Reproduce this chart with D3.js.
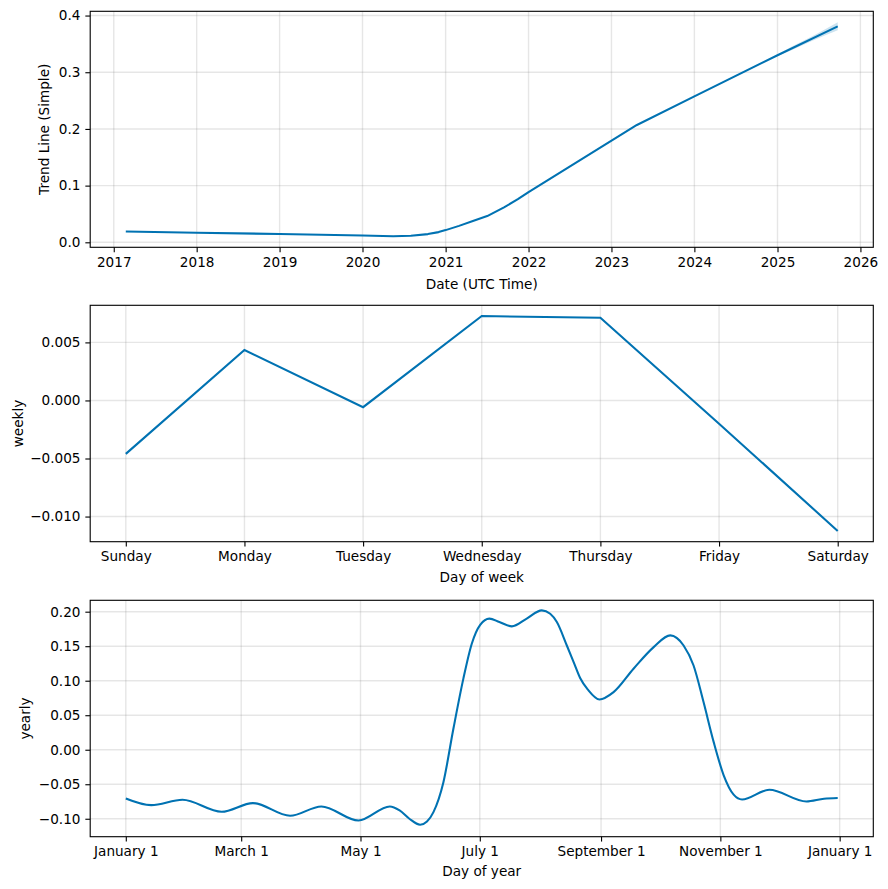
<!DOCTYPE html>
<html>
<head>
<meta charset="utf-8">
<script src="https://cdn.jsdelivr.net/npm/d3@7"></script>
<style>
  html, body { margin: 0; padding: 0; background: #fff; }
  svg { display: block; }
  text { font-family: "DejaVu Sans", sans-serif; fill: #000; }
</style>
</head>
<body>
<svg id="chart" width="888" height="889"></svg>
<script>
// ---------- DATA ----------
// Trend (Prophet component, piecewise linear)
const trendDates = ["2017-02-23","2018-01-01","2019-01-01","2020-01-01","2020-05-15","2020-08-01",
  "2020-10-15","2020-12-01","2021-01-01","2021-03-01","2021-05-01","2021-07-03","2021-09-15",
  "2021-11-15","2022-01-01","2023-04-23","2024-01-01","2025-01-01","2025-09-23"];
const trendValues = [0.0192,0.0169,0.0146,0.0121,0.0106,0.0115,
  0.0145,0.0180,0.0215,0.0290,0.0375,0.0463,0.0617,
  0.0760,0.0886,0.2070,0.2575,0.3300,0.3810];
// Trend uncertainty band (forecast part)
const bandDates = ["2024-12-01","2025-03-01","2025-06-01","2025-09-23"];
const bandUpper = [0.3240,0.3445,0.3630,0.3880];
const bandLower = [0.3240,0.3385,0.3550,0.3740];

// Weekly seasonality
const weekDays = ["Sunday","Monday","Tuesday","Wednesday","Thursday","Friday","Saturday"];
const weeklyValues = [-0.0046,0.00434,-0.00058,0.00727,0.00712,-0.0020,-0.01124];

// Yearly seasonality (day of year from Jan 1, 2017)
const yearDays = [0,13,29,49,65,84,100,119,135,140,145,150.5,154,157.3,162.4,167.5,172.6,176.9,181.2,185.9,
  191,197.4,205,212.7,217,220.4,225.5,229.4,232.3,236.3,242.2,249.4,259.6,269.9,278.4,285.2,290.3,295.4,
  300.6,305.7,310.8,315.1,329,348,357,364];
const yearlyValues = [-0.0706,-0.0803,-0.0725,-0.0899,-0.0773,-0.0957,-0.0822,-0.1025,-0.0822,-0.0880,-0.1000,-0.1087,-0.1040,-0.0904,-0.0470,
  0.0304,0.1030,0.1536,0.1810,0.1900,
  0.1850,0.1787,0.1900,0.2019,0.1970,0.1850,0.1510,0.1240,0.1040,0.0870,0.0729,0.0835,0.1174,0.1487,0.1657,0.1510,0.1220,0.0690,
  0.0110,-0.0370,-0.0650,-0.0720,-0.0580,-0.0750,-0.0710,-0.0700];
const yearTickDates = ["2017-01-01","2017-03-01","2017-05-01","2017-07-01","2017-09-01","2017-11-01","2018-01-01"];

const trendTicks = [0.0,0.1,0.2,0.3,0.4];
const weeklyTicks = [-0.010,-0.005,0.000,0.005];
const yearlyTicks = [-0.10,-0.05,0.00,0.05,0.10,0.15,0.20];

// ---------- LAYOUT ----------
const svg = d3.select("#chart");
const LEFT = 90.2, RIGHT = 873.3;
const FONT = 13.6;
const LINE = "#0072B2";
const TICK = 4.86, PAD = 4.86;
const parse = d3.utcParse("%Y-%m-%d");

function margin(ext, f) { const r = ext[1] - ext[0]; return [ext[0] - r * f, ext[1] + r * f]; }

function panel(top, bottom, x, y, xTicks, xFmt, yTicks, yFmt) {
  const g = svg.append("g");
  g.append("g").selectAll("line").data(xTicks).join("line")
    .attr("x1", d => x(d)).attr("x2", d => x(d)).attr("y1", top).attr("y2", bottom)
    .attr("stroke", "gray").attr("stroke-opacity", 0.2).attr("stroke-width", 1.39);
  g.append("g").selectAll("line").data(yTicks).join("line")
    .attr("y1", d => y(d)).attr("y2", d => y(d)).attr("x1", LEFT).attr("x2", RIGHT)
    .attr("stroke", "gray").attr("stroke-opacity", 0.2).attr("stroke-width", 1.39);
  const xa = g.append("g").attr("transform", `translate(0,${bottom})`)
    .call(d3.axisBottom(x).tickValues(xTicks).tickFormat(xFmt).tickSize(TICK).tickPadding(PAD).tickSizeOuter(0));
  const ya = g.append("g").attr("transform", `translate(${LEFT},0)`)
    .call(d3.axisLeft(y).tickValues(yTicks).tickFormat(yFmt).tickSize(TICK).tickPadding(PAD).tickSizeOuter(0));
  [xa, ya].forEach(a => {
    a.select(".domain").remove();
    a.selectAll(".tick line").attr("stroke", "#000").attr("stroke-width", 1.11);
    a.selectAll(".tick text").attr("font-size", FONT).attr("font-family", "DejaVu Sans").attr("fill", "#000");
  });
  return g;
}

function frame(g, top, bottom) {
  g.append("rect").attr("x", LEFT).attr("y", top).attr("width", RIGHT - LEFT).attr("height", bottom - top)
    .attr("fill", "none").attr("stroke", "#000").attr("stroke-width", 1.11);
}

function label(text, x, y, rot) {
  svg.append("text").attr("x", x).attr("y", y).attr("text-anchor", "middle")
    .attr("font-size", FONT)
    .attr("transform", rot ? `rotate(-90,${x},${y})` : null)
    .text(text);
}

// ---------- PANEL 1: trend ----------
{
  const top = 11.3, bottom = 247.3;
  const td = trendDates.map(parse);
  const xd = margin(d3.extent(td).map(Number), 0.05);
  const x = d3.scaleUtc().domain(xd.map(v => new Date(v))).range([LEFT, RIGHT]);
  const y = d3.scaleLinear().domain([-0.0088, 0.4075]).range([bottom, top]);
  const ticks = d3.utcYear.range(parse("2017-01-01"), parse("2026-01-02"));
  const g = panel(top, bottom, x, y, ticks, d3.utcFormat("%Y"), trendTicks, d3.format(".1f"));
  const bd = bandDates.map(parse);
  g.append("path")
    .datum(bd.map((d, i) => ({ d, lo: bandLower[i], hi: bandUpper[i] })))
    .attr("fill", LINE).attr("fill-opacity", 0.2)
    .attr("d", d3.area().x(p => x(p.d)).y0(p => y(p.lo)).y1(p => y(p.hi)).curve(d3.curveMonotoneX));
  g.append("path")
    .datum(td.map((d, i) => ({ d, v: trendValues[i] })))
    .attr("fill", "none").attr("stroke", LINE).attr("stroke-width", 2.08).attr("stroke-linejoin", "round")
    .attr("d", d3.line().x(p => x(p.d)).y(p => y(p.v)));
  frame(g, top, bottom);
  label("Date (UTC Time)", (LEFT + RIGHT) / 2, 288.5, false);
  label("Trend Line (Simple)", 49.5, (top + bottom) / 2, true);
}

// ---------- PANEL 2: weekly ----------
{
  const top = 305.3, bottom = 541.7;
  const idx = weekDays.map((d, i) => i);
  const x = d3.scaleLinear().domain(margin([0, weekDays.length - 1], 0.05)).range([LEFT, RIGHT]);
  const y = d3.scaleLinear().domain(margin(d3.extent(weeklyValues), 0.05)).range([bottom, top]);
  const g = panel(top, bottom, x, y, idx, i => weekDays[i], weeklyTicks, d3.format(".3f"));
  g.append("path")
    .datum(weeklyValues.map((v, i) => ({ i, v })))
    .attr("fill", "none").attr("stroke", LINE).attr("stroke-width", 2.08)
    .attr("d", d3.line().x(p => x(p.i)).y(p => y(p.v)));
  frame(g, top, bottom);
  label("Day of week", (LEFT + RIGHT) / 2, 581.5, false);
  label("weekly", 22.5, (top + bottom) / 2, true);
}

// ---------- PANEL 3: yearly ----------
{
  const top = 600.3, bottom = 836.7;
  const start = parse("2017-01-01");
  const dates = yearDays.map(d => new Date(+start + d * 86400000));
  const xd = margin([+start, +start + 364 * 86400000], 0.05);
  const x = d3.scaleUtc().domain(xd.map(v => new Date(v))).range([LEFT, RIGHT]);
  const y = d3.scaleLinear().domain([-0.126, 0.2165]).range([bottom, top]);
  const ticks = yearTickDates.map(parse);
  const fmt = d => d3.utcFormat("%B")(d) + " " + d.getUTCDate();
  const g = panel(top, bottom, x, y, ticks, fmt, yearlyTicks, d3.format(".2f"));
  g.append("path")
    .datum(dates.map((d, i) => ({ d, v: yearlyValues[i] })))
    .attr("fill", "none").attr("stroke", LINE).attr("stroke-width", 2.08)
    .attr("d", d3.line().x(p => x(p.d)).y(p => y(p.v)).curve(d3.curveMonotoneX));
  frame(g, top, bottom);
  label("Day of year", (LEFT + RIGHT) / 2, 876, false);
  label("yearly", 29.5, (top + bottom) / 2, true);
}
</script>
</body>
</html>
